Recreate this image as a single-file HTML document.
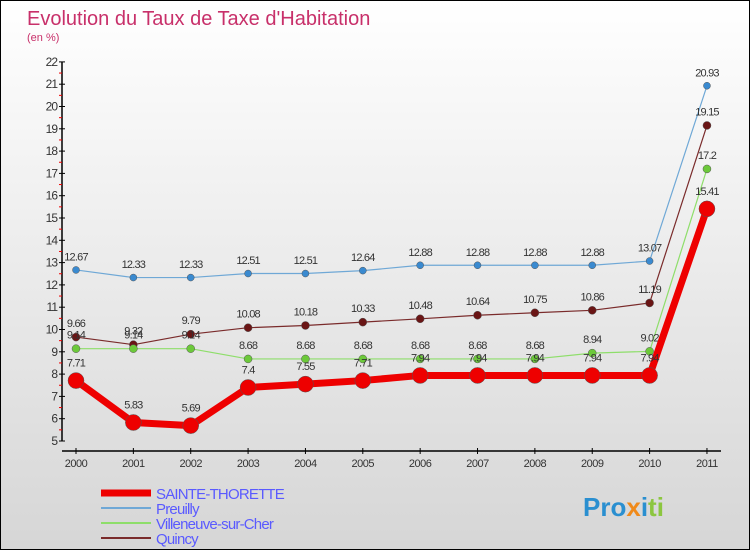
<!DOCTYPE html>
<html><head><meta charset="utf-8"><style>
body{margin:0}
#c{width:748px;height:548px;border:1px solid #000;background:linear-gradient(#fff,#d6d6d6);position:relative;overflow:hidden;font-family:"Liberation Sans",sans-serif}
</style></head><body>
<div id="c">
<svg id="s" width="748" height="548">
<text x="26" y="24" font-size="20" fill="#c8306a">Evolution du Taux de Taxe d'Habitation</text>
<text x="26" y="40" font-size="11" fill="#c8306a">(en %)</text>
<g id="axes"></g><g id="series"></g><g id="legend"></g>
<text x="582" y="515" font-size="26" font-weight="bold"><tspan fill="#2a8fd0">Pro</tspan><tspan fill="#f08a1a">x</tspan><tspan fill="#2a8fd0">i</tspan><tspan fill="#8cc63f">ti</tspan></text>
</svg></div>
<script>
const years=["2000","2001","2002","2003","2004","2005","2006","2007","2008","2009","2010","2011"];
const yTicks=[5,6,7,8,9,10,11,12,13,14,15,16,17,18,19,20,21,22];
const preuilly=[12.67,12.33,12.33,12.51,12.51,12.64,12.88,12.88,12.88,12.88,13.07,20.93];
const quincy=[9.66,9.32,9.79,10.08,10.18,10.33,10.48,10.64,10.75,10.86,11.19,19.15];
const villeneuve=[9.14,9.14,9.14,8.68,8.68,8.68,8.68,8.68,8.68,8.94,9.02,17.2];
const sainte=[7.71,5.83,5.69,7.4,7.55,7.71,7.94,7.94,7.94,7.94,7.94,15.41];
const NS="http://www.w3.org/2000/svg";
function X(i){return 75+i*57.36}
function Y(v){return 440-(v-5)*22.3}
function mk(t,a,p){const e=document.createElementNS(NS,t);for(const k in a)e.setAttribute(k,a[k]);p.appendChild(e);return e}
const ax=document.getElementById('axes');
let l=mk('line',{x1:61,y1:Y(22),x2:61,y2:Y(5),stroke:'#000','stroke-width':1.5},ax);


l=mk('line',{x1:61,y1:450,x2:720,y2:450,stroke:'#000','stroke-width':1.5},ax);


yTicks.forEach(v=>{mk('line',{x1:58,x2:64,y1:Y(v),y2:Y(v),stroke:'#000'},ax);
if(v<22)mk('line',{x1:58,x2:61,y1:Y(v+0.5),y2:Y(v+0.5),stroke:'#e00'},ax);
const t=mk('text',{x:56,y:Y(v)+4,'font-size':12,'text-anchor':'end',fill:'#333','letter-spacing':'-1'},ax);t.textContent=v;

});
years.forEach((y,i)=>{mk('line',{x1:X(i),x2:X(i),y1:447,y2:453,stroke:'#000'},ax);
const t=mk('text',{x:X(i),y:466,'font-size':11,'text-anchor':'middle',fill:'#333','letter-spacing':'-0.5'},ax);t.textContent=y;

});
const sg=document.getElementById('series');
function draw(d,col,dot,w,r,name){const g=mk('g',{},sg);


mk('polyline',{points:d.map((v,i)=>X(i)+','+Y(v)).join(' '),fill:'none',stroke:col,'stroke-width':w,'stroke-linejoin':'round'},g);
d.forEach((v,i)=>{const c=mk('circle',{cx:X(i),cy:Y(v),r:r,fill:dot,stroke:'#555','stroke-width':0.5},g);


const t=mk('text',{x:X(i),y:Y(v)-(r+6),'font-size':11,'text-anchor':'middle',fill:'#333','letter-spacing':'-0.8'},g);t.textContent=v;

});}
draw(preuilly,'#6fa8d6','#3a8ad0',1.2,3.5,'preuilly');
draw(quincy,'#7a2b2b','#6a1515',1.2,4,'quincy');
draw(villeneuve,'#8ede6a','#6cc93a',1.2,4,'villeneuve');
draw(sainte,'#ee0000','#ee0000',7,8,'sainte-thorette');
const lg=document.getElementById('legend');
[['SAINTE-THORETTE','#ee0000',7],['Preuilly','#6fa8d6',2],['Villeneuve-sur-Cher','#8ede6a',2],['Quincy','#7a2b2b',2]].forEach((e,i)=>{const y=492+i*15;
const g=mk('g',{},lg);


mk('line',{x1:100,x2:150,y1:y,y2:y,stroke:e[1],'stroke-width':e[2]},g);
const t=mk('text',{x:155,y:y+6,'font-size':15,fill:'#5a5aff','letter-spacing':'-0.8'},g);t.textContent=e[0];});
</script></body></html>
